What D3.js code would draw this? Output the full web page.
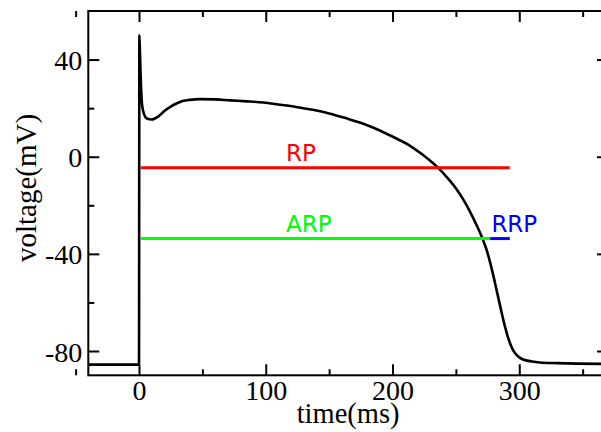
<!DOCTYPE html>
<html>
<head>
<meta charset="utf-8">
<script src="https://cdn.jsdelivr.net/npm/d3@7"></script>
<style>
  body { margin: 0; background: #fff; }
</style>
</head>
<body>
<div id="chart"></div>
<script>
// action potential trace
var timeMs = [-40, 0, 0.3, 0.8, 1.5, 2.5, 4, 6, 10, 15, 20, 25, 30, 35, 40, 48, 60, 72, 85, 98,
    110, 124, 137, 150, 163, 177, 190, 203, 213, 222, 230, 236, 243, 250, 256, 261, 266, 271,
    274, 277, 280, 283, 286, 289, 291, 293, 295, 298, 303, 310, 316, 330, 345, 370];
var voltage = [-85.6, -85.6, 50, 42, 30, 21, 17.5, 15.8, 15.3, 16.5, 18.8, 20.6, 22, 23, 23.4, 23.7,
    23.6, 23.2, 22.8, 22.3, 21.5, 20.5, 19.3, 17.8, 15.9, 13.6, 10.8, 7.5, 4.8, 1.5, -1.8, -4.6,
    -8.5, -13, -17.8, -22.5, -27.8, -33.7, -38, -43.5, -50, -57, -64, -70.5, -74.2, -77.2, -79.5,
    -81.7, -83.5, -84.3, -84.7, -85, -85.2, -85.3];

// refractory periods
var periods = [
    { name: "RP", start: 1.5, end: 292.5, level: -4.5, color: "#ff0000", labelT: 116 },
    { name: "ARP", start: 1.5, end: 277, level: -33.7, color: "#00ff00", labelT: 116 },
    { name: "RRP", start: 277, end: 292.5, level: -33.7, color: "#0000ff", labelT: 278 }
];

var xMajor = [0, 100, 200, 300];
var xMinor = [-50, 50, 150, 250, 350];
var yMajor = [-80, -40, 0, 40];
var yMinor = [-60, -20, 20];

var W = 601, H = 432;
var x = d3.scaleLinear().domain([-40, 370]).range([88.3, 608]);
var y = d3.scaleLinear().domain([-90, 60]).range([375.3, 11]);

var svg = d3.select("#chart").append("svg")
    .attr("width", W)
    .attr("height", H);

var serif = "'Liberation Serif', 'Times New Roman', serif";
var plain = function (d) { return String(d); }; // keep ascii hyphen for negatives

// curve
var line = d3.line()
    .x(function (d, i) { return x(timeMs[i]); })
    .y(function (d) { return y(d); })
    .curve(d3.curveMonotoneX);

svg.append("path")
    .datum(voltage)
    .attr("d", line)
    .attr("fill", "none")
    .attr("stroke", "#000")
    .attr("stroke-width", 2.6)
    .attr("stroke-linejoin", "round");

// period bars
svg.selectAll(".period")
    .data(periods)
    .enter()
    .append("line")
    .attr("x1", function (d) { return x(d.start); })
    .attr("x2", function (d) { return x(d.end); })
    .attr("y1", function (d) { return y(d.level); })
    .attr("y2", function (d) { return y(d.level); })
    .attr("stroke", function (d) { return d.color; })
    .attr("stroke-width", 3);

svg.selectAll(".plabel")
    .data(periods)
    .enter()
    .append("text")
    .attr("x", function (d) { return x(d.labelT); })
    .attr("y", function (d) { return y(d.level) - 7; })
    .attr("fill", function (d) { return d.color; })
    .style("font-family", "'DejaVu Sans', sans-serif")
    .style("font-size", "23px")
    .text(function (d) { return d.name; });

// axes (ticks point inward)
function styleAxis(g) {
    g.select(".domain").remove();
    g.selectAll(".tick line").attr("stroke", "#000").attr("stroke-width", 2);
    g.selectAll("text").style("font-family", serif).style("font-size", "28px").attr("fill", "#000");
}

svg.append("g")
    .attr("transform", "translate(0," + y(-90) + ")")
    .call(d3.axisBottom(x).tickValues(xMajor).tickSize(-11).tickPadding(5).tickFormat(plain))
    .call(styleAxis);
svg.append("g")
    .attr("transform", "translate(0," + y(-90) + ")")
    .call(d3.axisBottom(x).tickValues(xMinor).tickSize(-6).tickFormat(""))
    .call(styleAxis);
svg.append("g")
    .attr("transform", "translate(0," + y(60) + ")")
    .call(d3.axisTop(x).tickValues(xMajor).tickSize(-11).tickFormat(""))
    .call(styleAxis);
svg.append("g")
    .attr("transform", "translate(0," + y(60) + ")")
    .call(d3.axisTop(x).tickValues(xMinor).tickSize(-6).tickFormat(""))
    .call(styleAxis);

svg.append("g")
    .attr("transform", "translate(" + x(-40) + ",0)")
    .call(d3.axisLeft(y).tickValues(yMajor).tickSize(-11).tickPadding(6).tickFormat(plain))
    .call(styleAxis)
    .selectAll("text").attr("dy", "0.36em");
svg.append("g")
    .attr("transform", "translate(" + x(-40) + ",0)")
    .call(d3.axisLeft(y).tickValues(yMinor).tickSize(-6).tickFormat(""))
    .call(styleAxis);
svg.append("g")
    .attr("transform", "translate(" + x(370) + ",0)")
    .call(d3.axisRight(y).tickValues(yMajor).tickSize(-11).tickFormat(""))
    .call(styleAxis);
svg.append("g")
    .attr("transform", "translate(" + x(370) + ",0)")
    .call(d3.axisRight(y).tickValues(yMinor).tickSize(-6).tickFormat(""))
    .call(styleAxis);

// frame
svg.append("rect")
    .attr("x", x(-40))
    .attr("y", y(60))
    .attr("width", x(370) - x(-40))
    .attr("height", y(-90) - y(60))
    .attr("fill", "none")
    .attr("stroke", "#000")
    .attr("stroke-width", 2);

// axis titles
svg.append("text")
    .attr("x", (x(-40) + x(370)) / 2)
    .attr("y", 423)
    .attr("text-anchor", "middle")
    .style("font-family", serif)
    .style("font-size", "28.5px")
    .text("time(ms)");

svg.append("text")
    .attr("transform", "translate(36,188) rotate(-90)")
    .attr("text-anchor", "middle")
    .style("font-family", serif)
    .style("font-size", "29px")
    .text("voltage(mV)");
</script>
</body>
</html>
